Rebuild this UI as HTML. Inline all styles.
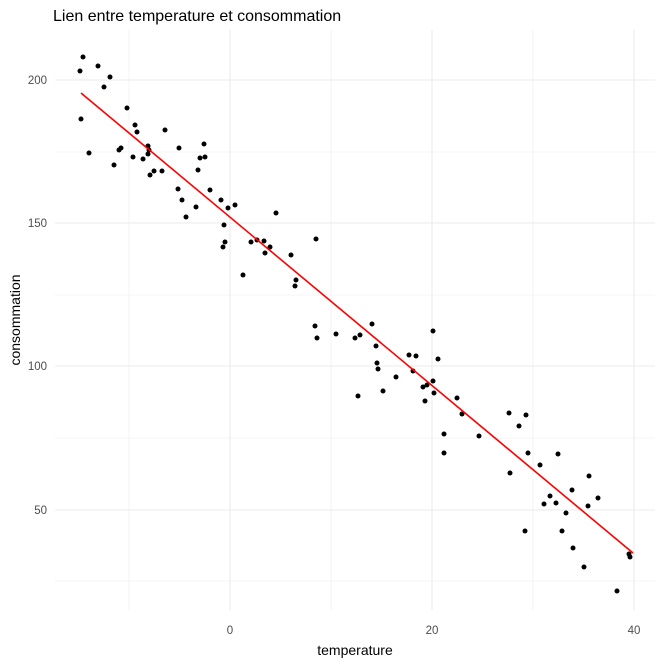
<!DOCTYPE html>
<html><head><style>body{margin:0;background:#fff}svg{display:block}</style></head><body>
<svg width="664" height="664" xmlns="http://www.w3.org/2000/svg" font-family="Liberation Sans, sans-serif">
<rect width="664" height="664" fill="#fff"/>
<g stroke="#ebebeb" stroke-width="0.6">
<line x1="129" y1="30" x2="129" y2="610"/><line x1="331" y1="30" x2="331" y2="610"/><line x1="533" y1="30" x2="533" y2="610"/>
<line x1="55" y1="152" x2="655" y2="152"/><line x1="55" y1="295" x2="655" y2="295"/><line x1="55" y1="438" x2="655" y2="438"/><line x1="55" y1="581" x2="655" y2="581"/>
</g>
<g stroke="#ebebeb" stroke-width="1.1">
<line x1="230" y1="30" x2="230" y2="610"/><line x1="432" y1="30" x2="432" y2="610"/><line x1="634" y1="30" x2="634" y2="610"/>
<line x1="55" y1="80" x2="655" y2="80"/><line x1="55" y1="223" x2="655" y2="223"/><line x1="55" y1="366" x2="655" y2="366"/><line x1="55" y1="510" x2="655" y2="510"/>
</g>
<g fill="#000">
<circle cx="80" cy="71" r="2.5"/><circle cx="83" cy="57" r="2.5"/><circle cx="81" cy="119" r="2.5"/><circle cx="89" cy="153" r="2.5"/><circle cx="98" cy="66" r="2.5"/><circle cx="104" cy="87" r="2.5"/><circle cx="110" cy="77" r="2.5"/><circle cx="114" cy="165" r="2.5"/><circle cx="119" cy="150" r="2.5"/><circle cx="121" cy="148" r="2.5"/><circle cx="127" cy="108" r="2.5"/><circle cx="135" cy="125" r="2.5"/><circle cx="137" cy="132" r="2.5"/><circle cx="133" cy="157" r="2.5"/><circle cx="143" cy="159" r="2.5"/><circle cx="148" cy="146" r="2.5"/><circle cx="149" cy="150" r="2.5"/><circle cx="148" cy="154" r="2.5"/><circle cx="150" cy="175" r="2.5"/><circle cx="154" cy="171" r="2.5"/><circle cx="162" cy="171" r="2.5"/><circle cx="165" cy="130" r="2.5"/><circle cx="179" cy="148" r="2.5"/><circle cx="178" cy="189" r="2.5"/><circle cx="182" cy="200" r="2.5"/><circle cx="186" cy="217" r="2.5"/><circle cx="196" cy="207" r="2.5"/><circle cx="198" cy="170" r="2.5"/><circle cx="200" cy="158" r="2.5"/><circle cx="204" cy="144" r="2.5"/><circle cx="205" cy="157" r="2.5"/><circle cx="210" cy="190" r="2.5"/><circle cx="221" cy="200" r="2.5"/><circle cx="223" cy="247" r="2.5"/><circle cx="225" cy="242" r="2.5"/><circle cx="224" cy="225" r="2.5"/><circle cx="228" cy="208" r="2.5"/><circle cx="235" cy="205" r="2.5"/><circle cx="243" cy="275" r="2.5"/><circle cx="251" cy="242" r="2.5"/><circle cx="257" cy="240" r="2.5"/><circle cx="264" cy="241" r="2.5"/><circle cx="265" cy="253" r="2.5"/><circle cx="270" cy="247" r="2.5"/><circle cx="276" cy="213" r="2.5"/><circle cx="291" cy="255" r="2.5"/><circle cx="295" cy="286" r="2.5"/><circle cx="296" cy="280" r="2.5"/><circle cx="315" cy="326" r="2.5"/><circle cx="317" cy="338" r="2.5"/><circle cx="316" cy="239" r="2.5"/><circle cx="336" cy="334" r="2.5"/><circle cx="355" cy="338" r="2.5"/><circle cx="358" cy="396" r="2.5"/><circle cx="360" cy="335" r="2.5"/><circle cx="372" cy="324" r="2.5"/><circle cx="376" cy="346" r="2.5"/><circle cx="377" cy="363" r="2.5"/><circle cx="378" cy="369" r="2.5"/><circle cx="383" cy="391" r="2.5"/><circle cx="396" cy="377" r="2.5"/><circle cx="409" cy="355" r="2.5"/><circle cx="413" cy="371" r="2.5"/><circle cx="416" cy="356" r="2.5"/><circle cx="423" cy="387" r="2.5"/><circle cx="425" cy="401" r="2.5"/><circle cx="427" cy="385" r="2.5"/><circle cx="433" cy="381" r="2.5"/><circle cx="434" cy="393" r="2.5"/><circle cx="433" cy="331" r="2.5"/><circle cx="438" cy="359" r="2.5"/><circle cx="444" cy="434" r="2.5"/><circle cx="444" cy="453" r="2.5"/><circle cx="457" cy="398" r="2.5"/><circle cx="462" cy="414" r="2.5"/><circle cx="479" cy="436" r="2.5"/><circle cx="509" cy="413" r="2.5"/><circle cx="510" cy="473" r="2.5"/><circle cx="519" cy="426" r="2.5"/><circle cx="526" cy="415" r="2.5"/><circle cx="525" cy="531" r="2.5"/><circle cx="528" cy="453" r="2.5"/><circle cx="540" cy="465" r="2.5"/><circle cx="544" cy="504" r="2.5"/><circle cx="550" cy="496" r="2.5"/><circle cx="558" cy="454" r="2.5"/><circle cx="556" cy="503" r="2.5"/><circle cx="562" cy="531" r="2.5"/><circle cx="566" cy="513" r="2.5"/><circle cx="572" cy="490" r="2.5"/><circle cx="573" cy="548" r="2.5"/><circle cx="584" cy="567" r="2.5"/><circle cx="589" cy="476" r="2.5"/><circle cx="588" cy="506" r="2.5"/><circle cx="598" cy="498" r="2.5"/><circle cx="617" cy="591" r="2.5"/><circle cx="629" cy="554" r="2.5"/><circle cx="630" cy="557" r="2.5"/>
</g>
<line x1="81" y1="93" x2="633" y2="553" stroke="#ff0000" stroke-width="1.6"/>
<g fill="#4d4d4d" font-size="11.5" text-anchor="end">
<text x="47" y="84">200</text><text x="47" y="227">150</text><text x="47" y="370">100</text><text x="47" y="514">50</text>
</g>
<g fill="#4d4d4d" font-size="11.5" text-anchor="middle">
<text x="230" y="634">0</text><text x="432" y="634">20</text><text x="634" y="634">40</text>
</g>
<text x="355" y="655" font-size="14" text-anchor="middle" fill="#000">temperature</text>
<text transform="translate(20,320) rotate(-90)" font-size="14" text-anchor="middle" fill="#000">consommation</text>
<text x="53" y="21" font-size="16" fill="#000">Lien entre temperature et consommation</text>
</svg>
</body></html>
